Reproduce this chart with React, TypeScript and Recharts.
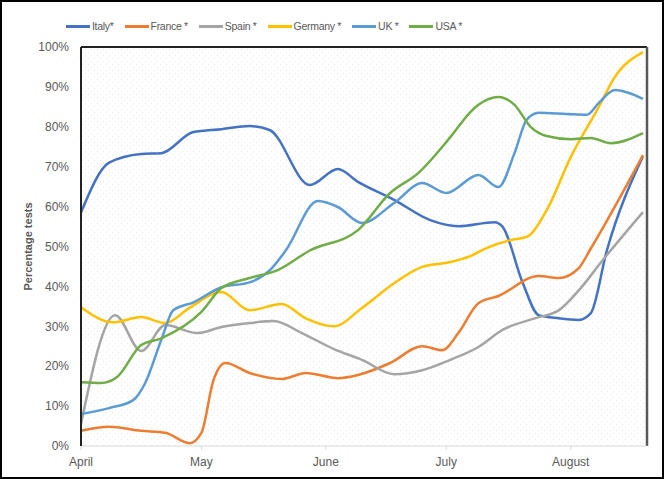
import { LineChart, Line, XAxis, YAxis, CartesianGrid, ReferenceLine } from 'recharts';

// day index counted from April 1st
const monthTicks = [0, 30, 61, 91, 122];
const monthNames = ['April', 'May', 'June', 'July', 'August'];
const yTicks = [0, 10, 20, 30, 40, 50, 60, 70, 80, 90, 100];

const italy: [number, number][] = [
  [0, 58.5], [7, 71], [15, 73.2], [20, 73.4], [28, 78.7], [35, 79.4], [42, 80.2], [47, 79.2],
  [57, 65.4], [64, 69.4], [69, 66.2], [78, 61.7], [87, 56.6], [94, 55.1], [103, 56.1], [105, 55],
  [110, 41], [114, 32.8], [119, 32], [124, 31.6], [127, 33.3], [131, 49], [140, 72.6],
];
const france: [number, number][] = [
  [0, 3.8], [7, 4.8], [15, 3.8], [21, 3.3], [27, 0.7], [30, 3.3], [33, 16.5], [36, 20.8],
  [42, 18.3], [50, 16.8], [56, 18.3], [64, 17], [69, 17.8], [77, 20.8], [85, 25], [90, 24],
  [94, 28.3], [99, 35.8], [104, 37.6], [114, 42.6], [119, 42.1], [124, 44.6], [127, 49.5], [140, 72.9],
];
const spain: [number, number][] = [
  [0, 5.5], [8.5, 32.8], [15, 23.8], [21, 30.3], [29, 28.3], [35, 29.8], [42, 30.8], [48, 31.3],
  [55, 28.3], [63, 24.3], [70, 21.6], [78, 18], [85, 19], [92, 21.6], [99, 24.8], [105, 29.1],
  [113, 32], [119, 34], [124, 39], [130, 46.6], [140, 58.6],
];
const germany: [number, number][] = [
  [0, 34.8], [8, 31], [15, 32.3], [21, 30.8], [27, 34.6], [35, 38.6], [42, 34], [50, 35.6],
  [56, 32], [63, 30], [70, 34.6], [78, 40.8], [85, 44.9], [92, 46.1], [97, 47.6], [101, 49.6],
  [107, 51.6], [111, 52.4], [116, 59.1], [122, 72.4], [129, 85], [133, 92.5], [140, 98.7],
];
const uk: [number, number][] = [
  [0, 8], [7, 9.5], [13, 11.5], [16, 15.8], [20, 26.6], [23, 34], [28, 36], [35, 39.8],
  [42, 41], [47, 44], [51, 49], [59, 61.4], [64, 59.9], [70, 55.9], [78, 60.9], [85, 65.9],
  [91, 63.4], [99, 67.9], [104, 64.9], [108, 73.4], [111, 81.7], [114, 83.5], [121, 83.2],
  [126, 83], [129, 86], [133, 89.2], [140, 87],
];
const usa: [number, number][] = [
  [0, 16], [5, 15.8], [9, 17.3], [15, 25.3], [20, 27], [30, 33.6], [35, 39.6], [42, 42.1],
  [49, 44.1], [57, 49], [69, 54.1], [77, 63.4], [84, 68.4], [92, 77.4], [97, 83.7], [99, 85.5],
  [104, 87.5], [108, 85.5], [112, 80], [116, 77.7], [122, 76.9], [127, 77.2], [132, 75.9], [140, 78.4],
];

const series = [
  { name: 'Italy*', color: '#4472C4', points: italy },
  { name: 'France *', color: '#ED7D31', points: france },
  { name: 'Spain *', color: '#A5A5A5', points: spain },
  { name: 'Germany *', color: '#FFC000', points: germany },
  { name: 'UK *', color: '#5B9BD5', points: uk },
  { name: 'USA *', color: '#70AD47', points: usa },
];

const FONT = "'Liberation Sans', Arial, sans-serif";
const TEXT = '#595959';

export default function App() {
  return (
    <div style={{ position: 'absolute', left: 0, top: 0, width: 664, height: 479, background: '#fff' }}>
      <svg width={0} height={0} style={{ position: 'absolute' }}>
        <defs>
          <pattern id="dots" width={6} height={6} patternUnits="userSpaceOnUse">
            <circle cx={1.5} cy={1.5} r={0.7} fill="#efefef" />
            <circle cx={4.5} cy={4.5} r={0.7} fill="#efefef" />
          </pattern>
        </defs>
      </svg>
      <LineChart width={664} height={479} margin={{ top: 47, right: 17, bottom: 0, left: 0 }}>
        <CartesianGrid horizontal={false} vertical={false} fill="url(#dots)" />
        <XAxis
          type="number" dataKey="day" domain={[0, 141]} ticks={monthTicks}
          tickFormatter={(v) => monthNames[monthTicks.indexOf(v)] ?? ''}
          height={33} tickSize={4} tickMargin={7}
          stroke="#D9D9D9" tick={{ fill: TEXT, fontSize: 12, fontFamily: FONT }}
        />
        <YAxis
          type="number" domain={[0, 100]} ticks={yTicks} width={81}
          tickFormatter={(v) => `${v}%`} tickLine={false} tickSize={6} tickMargin={6}
          axisLine={{ stroke: '#222', strokeWidth: 2 }}
          tick={{ fill: TEXT, fontSize: 12, fontFamily: FONT }}
          label={{
            content: ({ viewBox }: any) => {
              const cx = 28;
              const cy = viewBox.y + viewBox.height / 2;
              return (
                <text x={cx} y={cy} transform={`rotate(-90 ${cx} ${cy})`} textAnchor="middle"
                  dominantBaseline="central" fill={TEXT} fontSize={11} fontWeight="bold" fontFamily={FONT}>
                  Percentage tests
                </text>
              );
            },
          }}
        />
        <ReferenceLine y={100} stroke="#222" strokeWidth={2} />
        <ReferenceLine x={141} stroke="#595959" strokeWidth={2.5} />
        {series.map((s) => (
          <Line
            key={s.name}
            data={s.points.map(([day, value]) => ({ day, value }))}
            dataKey="value" name={s.name} type="monotone"
            stroke={s.color} strokeWidth={2.5} dot={false}
            isAnimationActive={false}
          />
        ))}
      </LineChart>
      <div style={{
        position: 'absolute', left: 66, top: 20, display: 'flex', gap: 11,
        fontFamily: FONT, fontSize: 10.5, letterSpacing: -0.3, color: TEXT,
      }}>
        {series.map((s) => (
          <div key={s.name} style={{ display: 'flex', alignItems: 'center', gap: 2 }}>
            <span style={{ width: 24, height: 3, background: s.color, display: 'inline-block' }} />
            <span>{s.name}</span>
          </div>
        ))}
      </div>
      <div style={{
        position: 'absolute', left: 0, top: 0, width: 664, height: 479,
        boxSizing: 'border-box', border: '2px solid #000', pointerEvents: 'none',
      }} />
    </div>
  );
}
